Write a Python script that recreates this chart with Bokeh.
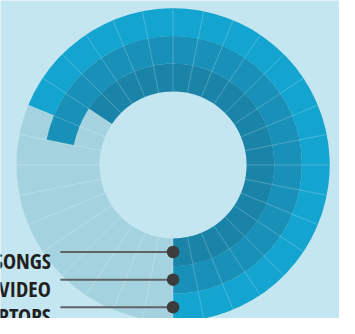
import math
from bokeh.plotting import figure
from bokeh.models import Range1d, ColumnDataSource
from bokeh.core.properties import value
from bokeh.embed import file_html
from bokeh.resources import INLINE

# ---- data ----
categories = ["SONGS", "VIDEO", "LAPTOPS"]          # inner -> outer ring
filled_segments = [21, 23, 22]                       # filled segments out of total
total_segments = 32
ring_colors = ["#1a84a8", "#1990b8", "#13a4d0"]

# ---- layout: data units are the reference picture's pixels ----
W, H = 339, 318
REF_W, REF_H = 355, 334
CX, CY = 180.7, 172.7          # ring centre in reference pixels
hole_r = 77.0
ring_w = 29.0
bg = "#c4e6f1"
track = "#a4d3df"

p = figure(width=W, height=H, output_backend="svg", toolbar_location=None,
           x_range=Range1d(-CX, REF_W - CX), y_range=Range1d(CY - REF_H, CY),
           x_axis_location=None, y_axis_location=None, min_border=0,
           background_fill_color=bg, border_fill_color=bg, outline_line_color=None)
p.grid.visible = False

outer_r = hole_r + ring_w * len(categories)

p.annular_wedge(x=[0], y=[0], inner_radius=hole_r, outer_radius=outer_r,
                start_angle=[-math.pi / 2], end_angle=[-math.pi / 2 + 2 * math.pi - 1e-6],
                direction="anticlock", fill_color=track, line_color=None)

step = 2 * math.pi / total_segments
inner = [hole_r + i * ring_w for i in range(len(categories))]
outer = [r + ring_w for r in inner]
starts = [-math.pi / 2] * len(categories)
ends = [-math.pi / 2 + n * step for n in filled_segments]
src = ColumnDataSource(dict(inner=inner, outer=outer, start=starts, end=ends, color=ring_colors))
p.annular_wedge(x=0, y=0, inner_radius="inner", outer_radius="outer",
                start_angle="start", end_angle="end", direction="anticlock",
                fill_color="color", line_color=None, source=src)

sx0, sy0, sx1, sy1 = [], [], [], []
for k in range(total_segments):
    a = -math.pi / 2 + k * step
    sx0.append(hole_r * math.cos(a)); sy0.append(hole_r * math.sin(a))
    sx1.append(outer_r * math.cos(a)); sy1.append(outer_r * math.sin(a))
p.segment(x0=sx0, y0=sy0, x1=sx1, y1=sy1, line_color="white", line_alpha=0.28, line_width=0.8)

mids = [r + ring_w / 2 for r in inner]
dot_y = [-m for m in mids]
p.segment(x0=[62.7 - CX] * 3, y0=dot_y, x1=[0] * 3, y1=dot_y, line_color="#5f6366", line_width=2)
p.scatter(x=[0] * 3, y=dot_y, size=12.5, fill_color="#3c3c3c", line_color=None)
p.text(x=[52.7 - CX] * 3, y=[d - 8.3 for d in dot_y], text=categories,
       text_align="right", text_baseline="alphabetic",
       text_font=value("Open Sans Condensed"), text_font_style="bold",
       text_font_size="22px", text_color="#231f20")

open("out.html", "w").write(file_html(p, INLINE))
